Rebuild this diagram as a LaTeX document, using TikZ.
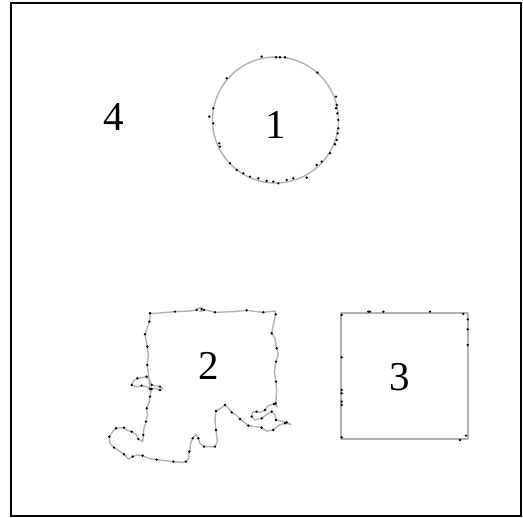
\documentclass[tikz,border=0pt]{standalone}
\usepackage{fontspec}
\setmainfont{Liberation Serif}
\tikzset{
  outline/.style={draw=black!30, line width=1.4pt, line join=round},
  frame/.style={draw=black, line width=2.4pt},
  lbl/.style={font=\fontsize{41}{41}\selectfont, inner sep=0pt, anchor=center},
}
\def\blobpts{150/55, 165/55, 225/50, 270/48, 290/45, 298/38, 305/42, 300/50, 312/45, 330/48, 345/52, 400/50, 440/46, 470/50, 490/52, 525/48,
527/58, 520/90, 515/115, 525/130, 530/160, 535/178, 528/200, 523/230, 528/260, 530/290, 527/325,
532/335, 522/327, 505/332, 495/345, 482/352, 470/350, 458/352, 455/365, 465/375, 485/370, 500/358, 515/350, 525/360, 528/375, 545/378, 560/382, 572/388, 555/385, 538/390, 520/405, 500/408, 485/398, 465/395, 445/392, 430/380, 420/372, 408/360, 395/352, 385/340, 375/330, 362/340, 348/348, 345/375, 348/405, 352/440, 345/455, 330/455, 312/455, 300/445, 295/430, 288/418, 278/430, 272/445, 268/470, 266/488, 258/500, 245/502, 220/500, 195/497, 170/494, 145/490, 128/482, 110/480, 98/485, 85/492, 72/478, 58/468, 42/458, 30/445, 28/425, 38/410, 48/400, 62/398, 72/398, 82/406, 95/410, 108/418, 115/432, 128/440, 130/420, 132/400, 138/380, 142/360, 140/340, 148/320, 150/305, 152/290, 155/282,
165/280, 180/285, 188/280, 180/275, 165/272, 155/270, 150/258, 140/245, 128/248, 112/250, 100/258, 95/270, 110/275, 125/272, 140/275, 150/282,
145/235, 142/210, 145/180, 142/155, 138/135, 135/118, 142/100, 148/80, 150/65}
\def\circdots{185/35, 228/37, 240/37, 255/37, 352/83, 80/100, 408/155, 410/180, 408/190, 412/205, 415/225, 415/250, 413/265, 410/285, 405/298, 390/325, 28/215, 40/190, 40/235, 58/295, 60/305, 90/355, 110/375, 130/385, 150/395, 175/400, 200/408, 220/410, 235/415, 260/405, 280/400, 320/398, 365/350, 350/360}
\def\sqdots{35/45, 115/35, 120/35, 160/35, 300/35, 400/42, 413/58, 413/88, 413/135, 35/172, 35/270, 35/280, 35/305, 35/315, 35/412, 390/420, 408/407}
\begin{document}
\begin{tikzpicture}[x=1pt, y=-1pt]
\useasboundingbox (0,0) rectangle (523,518);
\draw[frame] (11,3) rectangle (521,516);
% shape 1: circle
\draw[outline] (275.5,120) circle[radius=63];
\begin{scope}[shift={(200,45)}, scale=1/3]
  \foreach \x/\y in \circdots { \fill (\x,\y) circle[radius=4]; }
\end{scope}
% shape 2: irregular region
\begin{scope}[shift={(100,295)}, scale=1/3]
  \draw[outline] (150,55) \foreach \x/\y in \blobpts { -- (\x,\y) } -- cycle;
  \foreach \x/\y [count=\i] in \blobpts { \ifodd\i \fill (\x,\y) circle[radius=4]; \fi }
\end{scope}
% shape 3: square
\draw[outline] (341,313) rectangle (468,439);
\begin{scope}[shift={(330,300)}, scale=1/3]
  \foreach \x/\y in \sqdots { \fill (\x,\y) circle[radius=4]; }
\end{scope}
% labels
\node[lbl] (l1) at (276,125) {1};
\node[lbl] (l2) at (209,366) {2};
\node[lbl] (l3) at (400,377) {3};
\node[lbl] (l4) at (114,117) {4};
\end{tikzpicture}
\end{document}
